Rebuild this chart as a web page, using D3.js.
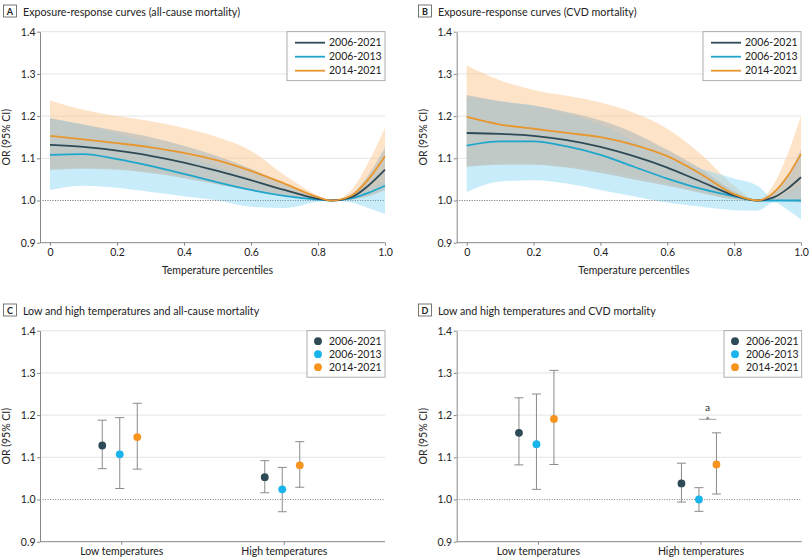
<!DOCTYPE html>
<html>
<head>
<meta charset="utf-8">
<script src="https://cdn.jsdelivr.net/npm/d3@7"></script>
<style>
  body { margin: 0; background: #fff; }
  text { font-family: Lato, "Open Sans", sans-serif; fill: #222; }
</style>
</head>
<body>
<div id="chart"></div>
<script>
// ---- data ----
var periods = ["2006-2021", "2006-2013", "2014-2021"];
var lineColors = ["#2e4a56", "#1ea6cc", "#e8972f"];
var dotColors = ["#2e4a56", "#1ab4ec", "#f7941d"];
var yTicks = [0.9, 1.0, 1.1, 1.2, 1.3, 1.4];
var xTicks = [0, 0.2, 0.4, 0.6, 0.8, 1.0];
var tempCats = ["Low temperatures", "High temperatures"];

// panel A: all-cause mortality exposure-response
var pctA = [0, 0.1, 0.2, 0.3, 0.4, 0.5, 0.6, 0.7, 0.8, 0.84, 0.9, 0.95, 1.0];
var allA = [1.132, 1.127, 1.118, 1.106, 1.090, 1.070, 1.048, 1.025, 1.004, 1.0, 1.008, 1.035, 1.073];
var allLoA = [1.072, 1.075, 1.073, 1.065, 1.053, 1.038, 1.023, 1.010, 1.002, 1.0, 1.002, 1.010, 1.025];
var allHiA = [1.195, 1.180, 1.165, 1.150, 1.130, 1.105, 1.075, 1.040, 1.008, 1.0, 1.015, 1.060, 1.125];
var earlyA = [1.108, 1.110, 1.098, 1.082, 1.063, 1.043, 1.025, 1.011, 1.002, 1.0, 1.005, 1.018, 1.035];
var earlyLoA = [1.025, 1.035, 1.030, 1.020, 1.010, 1.000, 0.985, 0.982, 0.997, 1.0, 0.995, 0.982, 0.968];
var earlyHiA = [1.195, 1.180, 1.160, 1.135, 1.108, 1.080, 1.052, 1.025, 1.005, 1.0, 1.010, 1.030, 1.045];
var lateA = [1.153, 1.145, 1.136, 1.126, 1.113, 1.095, 1.070, 1.040, 1.008, 1.0, 1.012, 1.050, 1.105];
var lateLoA = [1.075, 1.078, 1.076, 1.068, 1.058, 1.043, 1.028, 1.015, 1.003, 1.0, 1.003, 1.015, 1.040];
var lateHiA = [1.237, 1.215, 1.200, 1.188, 1.172, 1.150, 1.118, 1.060, 1.012, 1.0, 1.025, 1.090, 1.172];

// panel B: CVD mortality exposure-response
var pctB = [0, 0.1, 0.2, 0.3, 0.4, 0.5, 0.6, 0.7, 0.8, 0.87, 0.92, 0.96, 1.0];
var allB = [1.160, 1.158, 1.153, 1.143, 1.127, 1.105, 1.078, 1.045, 1.012, 1.0, 1.008, 1.028, 1.055];
var allLoB = [1.080, 1.085, 1.085, 1.078, 1.065, 1.050, 1.035, 1.018, 1.003, 1.0, 1.000, 0.998, 0.995];
var allHiB = [1.250, 1.235, 1.225, 1.210, 1.190, 1.160, 1.120, 1.075, 1.022, 1.0, 1.020, 1.060, 1.120];
var earlyB = [1.130, 1.140, 1.140, 1.128, 1.108, 1.080, 1.052, 1.028, 1.010, 1.0, 1.0, 1.0, 1.0];
var earlyLoB = [1.020, 1.045, 1.048, 1.040, 1.025, 1.010, 0.995, 0.985, 0.977, 0.976, 0.996, 0.978, 0.955];
var earlyHiB = [1.245, 1.235, 1.225, 1.205, 1.180, 1.140, 1.100, 1.075, 1.052, 1.035, 1.004, 1.020, 1.040];
var lateB = [1.198, 1.180, 1.170, 1.160, 1.150, 1.132, 1.105, 1.063, 1.015, 1.0, 1.020, 1.058, 1.110];
var lateLoB = [1.080, 1.088, 1.088, 1.082, 1.072, 1.058, 1.040, 1.020, 1.003, 1.0, 1.003, 1.013, 1.030];
var lateHiB = [1.320, 1.285, 1.262, 1.248, 1.232, 1.208, 1.170, 1.110, 1.035, 1.0, 1.040, 1.110, 1.200];

// panel C: all-cause, low / high temperatures [low, high]
var orAllC = [1.128, 1.053], loAllC = [1.073, 1.016], hiAllC = [1.188, 1.092];
var orEarlyC = [1.107, 1.024], loEarlyC = [1.026, 0.971], hiEarlyC = [1.194, 1.076];
var orLateC = [1.148, 1.081], loLateC = [1.072, 1.029], hiLateC = [1.228, 1.137];

// panel D: CVD, low / high temperatures
var orAllD = [1.158, 1.038], loAllD = [1.082, 0.994], hiAllD = [1.241, 1.086];
var orEarlyD = [1.131, 1.000], loEarlyD = [1.024, 0.972], hiEarlyD = [1.250, 1.028];
var orLateD = [1.191, 1.083], loLateD = [1.083, 1.013], hiLateD = [1.306, 1.158];
var sigLevelD = 1.19;

// ---- drawing ----
var W = 810, H = 560;
var svg = d3.select("#chart").append("svg")
    .attr("width", W)
    .attr("height", H);

function panelTitle(x, y, letter, title) {
    var g = svg.append("g").attr("transform", "translate(" + x + "," + y + ")");
    g.append("rect")
        .attr("x", 0).attr("y", -10)
        .attr("width", 13).attr("height", 12)
        .attr("fill", "#fff")
        .attr("stroke", "#555")
        .attr("stroke-width", 0.8);
    g.append("text")
        .attr("x", 6.5).attr("y", 0)
        .attr("text-anchor", "middle")
        .style("font-size", "9px")
        .style("font-weight", "bold")
        .text(letter);
    g.append("text")
        .attr("x", 19.5).attr("y", 0.5)
        .style("font-size", "10.7px")
        .text(title);
}

function yAxisFrame(g, left, right, yScale) {
    // grid lines
    g.selectAll(".grid")
        .data(yTicks.filter(function(d) { return d > 1.05; }))
        .enter().append("line")
        .attr("class", "grid")
        .attr("x1", left).attr("x2", right)
        .attr("y1", function(d) { return yScale(d); })
        .attr("y2", function(d) { return yScale(d); })
        .attr("stroke", "#dedede")
        .attr("stroke-width", 0.8);

    // dotted reference at OR = 1
    g.append("line")
        .attr("x1", left).attr("x2", right)
        .attr("y1", yScale(1)).attr("y2", yScale(1))
        .attr("stroke", "#666")
        .attr("stroke-width", 0.8)
        .attr("stroke-dasharray", "1,1.5");

    var yAxis = d3.axisLeft(yScale)
        .tickValues(yTicks)
        .tickFormat(d3.format(".1f"))
        .tickSize(3)
        .tickSizeOuter(0);
    var ya = g.append("g")
        .attr("transform", "translate(" + left + ",0)")
        .call(yAxis);
    ya.select(".domain").attr("stroke", "#888");
    ya.selectAll(".tick line").attr("stroke", "#888");
    ya.selectAll(".tick text")
        .attr("x", -4.5)
        .style("font-size", "10.5px")
        .style("font-family", "Lato, sans-serif")
        .attr("fill", "#222");

    // bottom line
    g.append("line")
        .attr("x1", left).attr("x2", right)
        .attr("y1", yScale(0.9)).attr("y2", yScale(0.9))
        .attr("stroke", "#888")
        .attr("stroke-width", 1);

    g.append("text")
        .attr("transform", "translate(" + (left - 30) + "," + ((yScale(0.9) + yScale(1.4)) / 2) + ") rotate(-90)")
        .attr("text-anchor", "middle")
        .style("font-size", "10.5px")
        .text("OR (95% CI)");
}

function curvePanel(opt) {
    var g = svg.append("g");
    var xScale = d3.scaleLinear().domain([0, 1]).range([opt.x0, opt.x1]);
    var yScale = d3.scaleLinear().domain([0.9, 1.4]).range([opt.yBot, opt.yTop]);

    var series = opt.series;

    var area = d3.area()
        .x(function(d) { return xScale(d.x); })
        .y0(function(d) { return yScale(d.lo); })
        .y1(function(d) { return yScale(d.hi); })
        .curve(d3.curveMonotoneX);
    var line = d3.line()
        .x(function(d) { return xScale(d.x); })
        .y(function(d) { return yScale(d.y); })
        .curve(d3.curveMonotoneX);

    function rows(s) {
        return opt.pct.map(function(p, i) {
            return { x: p, y: s.y[i], lo: s.lo[i], hi: s.hi[i] };
        });
    }

    var bandStyle = [
        { fill: "rgb(190,193,188)", op: 0.75 },
        { fill: "rgb(140,215,245)", op: 0.48 },
        { fill: "rgb(252,202,150)", op: 0.52 }
    ];

    yAxisFrame(g, opt.left, opt.x1, yScale);

    // bands: orange, cyan below, grey on top
    [2, 1, 0].forEach(function(k) {
        g.append("path")
            .datum(rows(series[k]))
            .attr("d", area)
            .attr("fill", bandStyle[k].fill)
            .attr("fill-opacity", bandStyle[k].op);
    });

    // redraw dotted ref over bands
    g.append("line")
        .attr("x1", opt.left).attr("x2", opt.x1)
        .attr("y1", yScale(1)).attr("y2", yScale(1))
        .attr("stroke", "#777")
        .attr("stroke-width", 0.8)
        .attr("stroke-dasharray", "1,1.5")
        .attr("opacity", 0.6);

    [1, 0, 2].forEach(function(k) {
        g.append("path")
            .datum(rows(series[k]))
            .attr("d", line)
            .attr("fill", "none")
            .attr("stroke", lineColors[k])
            .attr("stroke-width", 1.8);
    });

    var xAxis = d3.axisBottom(xScale)
        .tickValues(xTicks)
        .tickFormat(function(d) { return d === 0 ? "0" : d3.format(".1f")(d); })
        .tickSize(3)
        .tickSizeOuter(0);
    var xa = g.append("g")
        .attr("transform", "translate(0," + opt.yBot + ")")
        .call(xAxis);
    xa.select(".domain").remove();
    xa.selectAll(".tick line").attr("stroke", "#888");
    xa.selectAll(".tick text")
        .attr("y", 6)
        .style("font-size", "10.5px")
        .style("font-family", "Lato, sans-serif")
        .attr("fill", "#222");

    g.append("text")
        .attr("x", (opt.x0 + opt.x1) / 2)
        .attr("y", opt.yBot + 31)
        .attr("text-anchor", "middle")
        .style("font-size", "10.5px")
        .text("Temperature percentiles");

    // legend
    var lg = g.append("g").attr("transform", "translate(" + opt.legX + "," + opt.yTop + ")");
    lg.append("rect")
        .attr("width", opt.x1 - opt.legX).attr("height", 49)
        .attr("fill", "#fff")
        .attr("stroke", "#999")
        .attr("stroke-width", 0.8);
    periods.forEach(function(p, i) {
        var yy = 11 + i * 14;
        lg.append("line")
            .attr("x1", 8).attr("x2", 38)
            .attr("y1", yy).attr("y2", yy)
            .attr("stroke", lineColors[i])
            .attr("stroke-width", 1.8);
        lg.append("text")
            .attr("x", 42).attr("y", yy + 3.8)
            .style("font-size", "10.5px")
            .text(p);
    });
}

function pointPanel(opt) {
    var g = svg.append("g");
    var xScale = d3.scalePoint().domain(tempCats).range([opt.left, opt.right - 20]).padding(0.5);
    var offset = d3.scalePoint().domain(periods).range([-19, 16]);
    var yScale = d3.scaleLinear().domain([0.9, 1.4]).range([opt.yBot, opt.yTop]);

    yAxisFrame(g, opt.left, opt.right, yScale);

    var pts = [];
    opt.series.forEach(function(s, k) {
        tempCats.forEach(function(c, i) {
            pts.push({ cat: c, period: periods[k], k: k, or: s.or[i], lo: s.lo[i], hi: s.hi[i] });
        });
    });

    var bars = g.selectAll(".err").data(pts).enter().append("g").attr("class", "err");
    function cx(d) { return xScale(d.cat) + offset(d.period); }
    bars.append("line")
        .attr("x1", cx).attr("x2", cx)
        .attr("y1", function(d) { return yScale(d.lo); })
        .attr("y2", function(d) { return yScale(d.hi); })
        .attr("stroke", "#8a8a8a").attr("stroke-width", 1);
    ["lo", "hi"].forEach(function(key) {
        bars.append("line")
            .attr("x1", function(d) { return cx(d) - 4.5; })
            .attr("x2", function(d) { return cx(d) + 4.5; })
            .attr("y1", function(d) { return yScale(d[key]); })
            .attr("y2", function(d) { return yScale(d[key]); })
            .attr("stroke", "#8a8a8a").attr("stroke-width", 1);
    });
    bars.append("circle")
        .attr("cx", cx)
        .attr("cy", function(d) { return yScale(d.or); })
        .attr("r", 3.9)
        .attr("fill", function(d) { return dotColors[d.k]; });

    var xAxis = d3.axisBottom(xScale).tickSize(3).tickSizeOuter(0);
    var xa = g.append("g")
        .attr("transform", "translate(0," + opt.yBot + ")")
        .call(xAxis);
    xa.select(".domain").remove();
    xa.selectAll(".tick line").attr("stroke", "#888");
    xa.selectAll(".tick text")
        .attr("y", 6)
        .style("font-size", "10.5px")
        .style("font-family", "Lato, sans-serif")
        .attr("fill", "#222");

    if (opt.sig) {
        var xa1 = xScale("High temperatures") + offset(periods[1]);
        var xa2 = xScale("High temperatures") + offset(periods[2]);
        var ys = yScale(opt.sig);
        g.append("line")
            .attr("x1", xa1).attr("x2", xa2)
            .attr("y1", ys).attr("y2", ys)
            .attr("stroke", "#8a8a8a").attr("stroke-width", 0.8);
        var mx = (xa1 + xa2) / 2;
        g.append("path")
            .attr("d", "M" + (mx - 2) + "," + ys + "L" + mx + "," + (ys - 3) + "L" + (mx + 2) + "," + ys + "Z")
            .attr("fill", "#8a8a8a");
        g.append("text")
            .attr("x", mx).attr("y", ys - 8)
            .attr("text-anchor", "middle")
            .style("font-size", "9.5px")
            .text("a");
    }

    // legend
    var lg = g.append("g").attr("transform", "translate(" + opt.legX + "," + opt.yTop + ")");
    lg.append("rect")
        .attr("width", opt.right - opt.legX).attr("height", 46.5)
        .attr("fill", "#fff")
        .attr("stroke", "#999")
        .attr("stroke-width", 0.8);
    periods.forEach(function(p, i) {
        var yy = 10.5 + i * 13;
        lg.append("circle")
            .attr("cx", 11).attr("cy", yy)
            .attr("r", 3.9)
            .attr("fill", dotColors[i]);
        lg.append("text")
            .attr("x", 22).attr("y", yy + 3.8)
            .style("font-size", "10.5px")
            .text(p);
    });
}

panelTitle(3.5, 15, "A", "Exposure-response curves (all-cause mortality)");
panelTitle(418.5, 15, "B", "Exposure-response curves (CVD mortality)");
panelTitle(3.5, 314, "C", "Low and high temperatures and all-cause mortality");
panelTitle(418.5, 314, "D", "Low and high temperatures and CVD mortality");

curvePanel({
    left: 40, x0: 50, x1: 385, yTop: 31.7, yBot: 242.7, legX: 287,
    pct: pctA,
    series: [
        { y: allA, lo: allLoA, hi: allHiA },
        { y: earlyA, lo: earlyLoA, hi: earlyHiA },
        { y: lateA, lo: lateLoA, hi: lateHiA }
    ]
});

curvePanel({
    left: 456.7, x0: 466.7, x1: 801, yTop: 31.7, yBot: 242.7, legX: 703,
    pct: pctB,
    series: [
        { y: allB, lo: allLoB, hi: allHiB },
        { y: earlyB, lo: earlyLoB, hi: earlyHiB },
        { y: lateB, lo: lateLoB, hi: lateHiB }
    ]
});

pointPanel({
    left: 40, right: 385, yTop: 330.7, yBot: 541.7, legX: 307,
    series: [
        { or: orAllC, lo: loAllC, hi: hiAllC },
        { or: orEarlyC, lo: loEarlyC, hi: hiEarlyC },
        { or: orLateC, lo: loLateC, hi: hiLateC }
    ]
});

pointPanel({
    left: 456.7, right: 801.7, yTop: 330.7, yBot: 541.7, legX: 724,
    sig: sigLevelD,
    series: [
        { or: orAllD, lo: loAllD, hi: hiAllD },
        { or: orEarlyD, lo: loEarlyD, hi: hiEarlyD },
        { or: orLateD, lo: loLateD, hi: hiLateD }
    ]
});
</script>
</body>
</html>
